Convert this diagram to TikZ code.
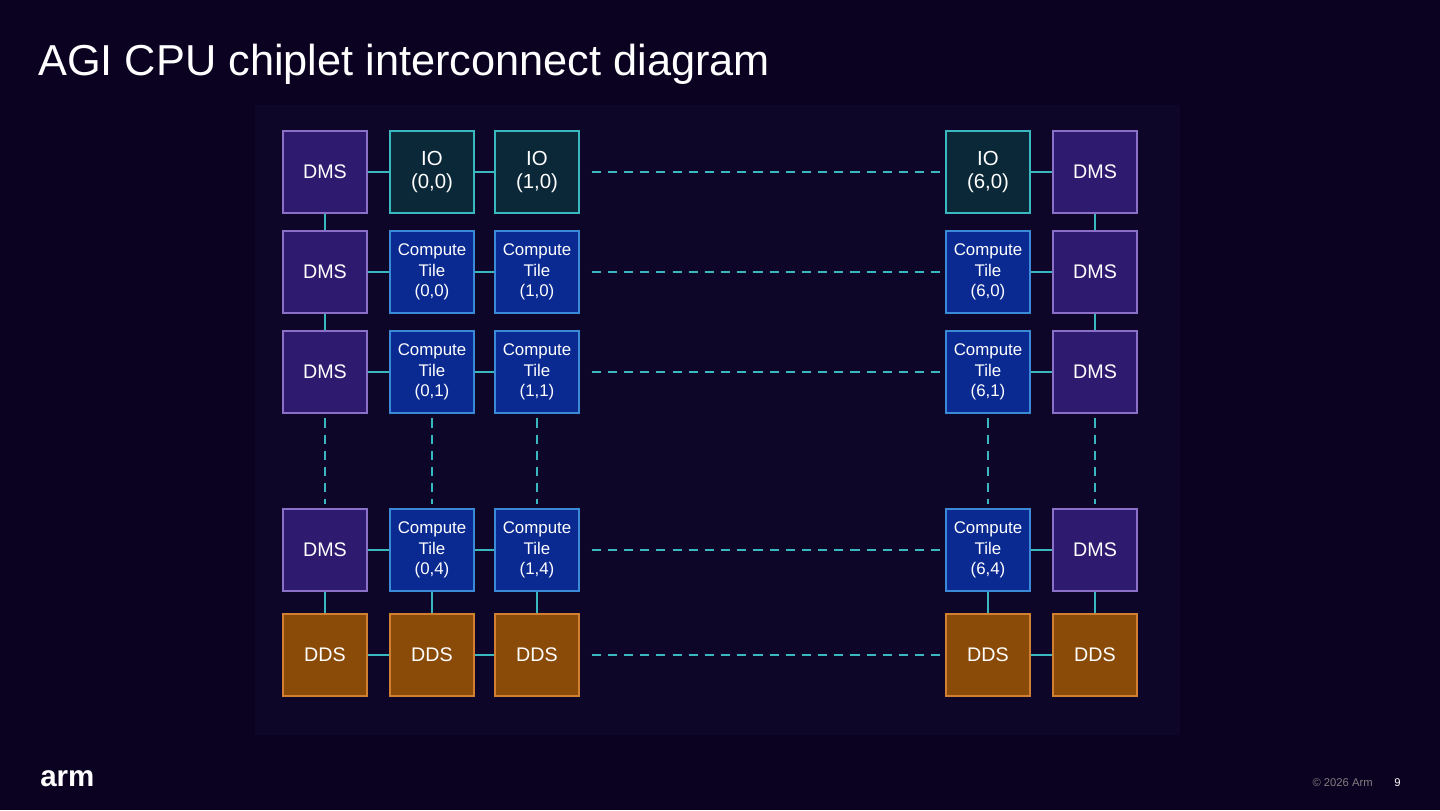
\documentclass[tikz,border=0pt]{standalone}
\usepackage{fontspec}
\setmainfont{Liberation Sans}
\usetikzlibrary{positioning}
\definecolor{slidebg}{HTML}{0A0220}
\definecolor{panelbg}{HTML}{0D0628}
\definecolor{link}{HTML}{3AB8C0}
\definecolor{dmsfill}{HTML}{2E1A6E}
\definecolor{dmsline}{HTML}{8A70C8}
\definecolor{iofill}{HTML}{0B2838}
\definecolor{ctfill}{HTML}{0A2A92}
\definecolor{ctline}{HTML}{3A8AD8}
\definecolor{ddsfill}{HTML}{8A4A08}
\definecolor{ddsline}{HTML}{D08030}
\tikzset{
  tile/.style={minimum width=2.1cm, minimum height=2.05cm, line width=0.9pt,
    text=white, align=center, inner sep=0pt},
  dms/.style={tile, fill=dmsfill, draw=dmsline, font=\fontsize{14}{16}\selectfont},
  io/.style={tile, fill=iofill, draw=link, font=\fontsize{14.5}{17}\selectfont},
  ct/.style={tile, fill=ctfill, draw=ctline, font=\fontsize{12}{14.5}\selectfont},
  dds/.style={tile, fill=ddsfill, draw=ddsline, font=\fontsize{14}{16}\selectfont},
  wire/.style={draw=link, line width=1.2pt},
  gapwire/.style={wire, dashed, dash pattern=on 6.5pt off 5pt}
}
\begin{document}
\begin{tikzpicture}[x=0.025cm, y=-0.025cm]
  \fill[slidebg] (0,0) rectangle (1440,810);
  \fill[panelbg] (255,105) rectangle (1180,735);
  \node[anchor=base west, text=white, font=\fontsize{30.8}{34}\selectfont, inner sep=0pt] (title) at (38,75) {AGI CPU chiplet interconnect diagram};
  \node[anchor=base west, text=white, font=\bfseries\fontsize{21}{23}\selectfont, inner sep=0pt] (logo) at (40,786) {arm};
  \node[anchor=base east, text=gray, font=\fontsize{8}{10}\selectfont, inner sep=0pt] (copy) at (1373,786) {© 2026 Arm};
  \node[anchor=base east, text=white, font=\fontsize{8}{10}\selectfont, inner sep=0pt] (page) at (1401,786) {9};

  % row 0: DMS, IO, DMS
  \node[dms] (n00) at (325,172) {DMS};
  \node[io]  (n10) at (432,172) {IO\\(0,0)};
  \node[io]  (n20) at (537,172) {IO\\(1,0)};
  \node[io]  (n30) at (988,172) {IO\\(6,0)};
  \node[dms] (n40) at (1095,172) {DMS};
  % rows 1-3: DMS and compute tiles
  \foreach \j/\y/\t in {1/272/0, 2/372/1, 3/550/4} {
    \node[dms] (n0\j) at (325,\y) {DMS};
    \node[ct]  (n1\j) at (432,\y) {Compute\\Tile\\(0,\t)};
    \node[ct]  (n2\j) at (537,\y) {Compute\\Tile\\(1,\t)};
    \node[ct]  (n3\j) at (988,\y) {Compute\\Tile\\(6,\t)};
    \node[dms] (n4\j) at (1095,\y) {DMS};
  }
  % row 4: DDS
  \foreach \i/\x in {0/325, 1/432, 2/537, 3/988, 4/1095}
    \node[dds] (n\i4) at (\x,655) {DDS};

  % horizontal links
  \foreach \j in {0,...,4} {
    \draw[wire] (n0\j) -- (n1\j);
    \draw[wire] (n1\j) -- (n2\j);
    \draw[wire] (n3\j) -- (n4\j);
    \draw[gapwire, shorten <=0.3cm, shorten >=0.1cm] (n2\j) -- (n3\j);
  }
  % vertical links
  \foreach \i in {0,4} {
    \draw[wire] (n\i0) -- (n\i1);
    \draw[wire] (n\i1) -- (n\i2);
  }
  \foreach \i in {0,...,4} {
    \draw[gapwire, shorten <=0.12cm, shorten >=0.12cm] (n\i2) -- (n\i3);
    \draw[wire] (n\i3) -- (n\i4);
  }
\end{tikzpicture}
\end{document}
